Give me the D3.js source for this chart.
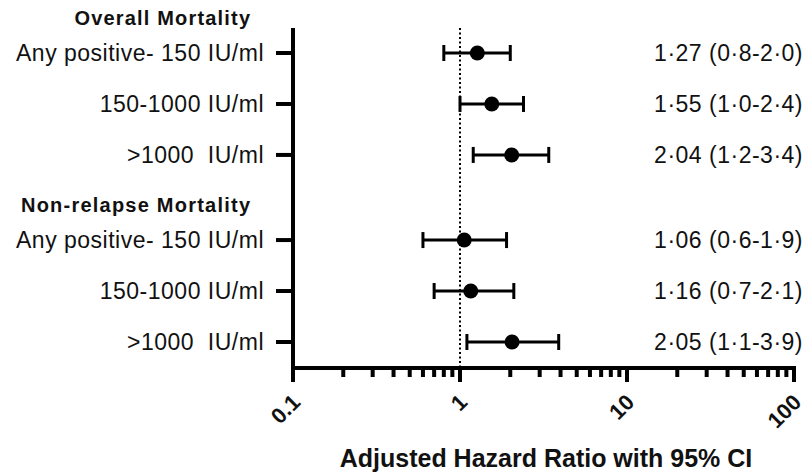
<!DOCTYPE html>
<html><head><meta charset="utf-8">
<script src="https://cdn.jsdelivr.net/npm/d3@7"></script>
<style>body{margin:0;background:#fff}text{font-family:"Liberation Sans",Arial,sans-serif}</style>
</head><body><svg id="c" width="808" height="472"></svg>
<script>
const groups = ["Overall Mortality", "Non-relapse Mortality"];
const categories = ["Any positive- 150 IU/ml", "150-1000 IU/ml", ">1000  IU/ml",
                    "Any positive- 150 IU/ml", "150-1000 IU/ml", ">1000  IU/ml"];
const groupOf = [0,0,0,1,1,1];
const hr   = [1.27, 1.55, 2.04, 1.06, 1.16, 2.05];
const low  = [0.8, 1.0, 1.2, 0.6, 0.7, 1.1];
const high = [2.0, 2.4, 3.4, 1.9, 2.1, 3.9];
const annot = ["1·27 (0·8-2·0)", "1·55 (1·0-2·4)", "2·04 (1·2-3·4)",
               "1·06 (0·6-1·9)", "1·16 (0·7-2·1)", "2·05 (1·1-3·9)"];
const tickLabels = ["0.1", "1", "10", "100"];
const xTitle = "Adjusted Hazard Ratio with 95% CI";

const svg = d3.select("#c");
const axisX = 293, axisY = 368;
const x = d3.scaleLog().domain([0.1, 100]).range([axisX, 794]);
// row slot: index within sequence plus a gap for each group header after the first
const slot = i => i + groupOf[i] * 0.67;
const y = d3.scaleLinear().domain([0, 5.67]).range([53, 342]);

// dotted reference line at HR = 1
svg.append("line").attr("x1", x(1)).attr("x2", x(1)).attr("y1", 28).attr("y2", axisY)
  .attr("stroke", "#000").attr("stroke-width", 2).attr("stroke-dasharray", "2,2.5");

// y axis
svg.append("line").attr("x1", axisX).attr("x2", axisX).attr("y1", 28).attr("y2", axisY + 2)
  .attr("stroke", "#000").attr("stroke-width", 4);
categories.forEach((c, i) => {
  svg.append("line").attr("x1", axisX - 17).attr("x2", axisX).attr("y1", y(slot(i))).attr("y2", y(slot(i)))
    .attr("stroke", "#000").attr("stroke-width", 4);
  svg.append("text").attr("x", 264).attr("y", y(slot(i))).attr("dy", "0.36em")
    .attr("text-anchor", "end").attr("font-size", 23).attr("letter-spacing", 0.5)
    .attr("fill", "#111").style("white-space", "pre").text(c);
});
// group headers
groups.forEach((g, k) => {
  const first = groupOf.indexOf(k);
  const t = svg.append("text").attr("x", 250).attr("y", y(slot(first)) - 35).attr("dy", "0.36em")
    .attr("text-anchor", "end").attr("font-size", 20).attr("font-weight", "bold").attr("fill", "#111").text(g);
  const w = t.node().getComputedTextLength();
  t.attr("textLength", w * 1.12).attr("lengthAdjust", "spacing");
});

// x axis
svg.append("line").attr("x1", axisX - 2).attr("x2", 796).attr("y1", axisY).attr("y2", axisY)
  .attr("stroke", "#000").attr("stroke-width", 4);
const ticks = [];
for (let d = 0.1; d < 100; d *= 10) for (let m = 1; m < 10; m++) ticks.push({v: +(d*m).toPrecision(3), major: m === 1});
ticks.push({v: 100, major: true});
ticks.forEach(t => {
  svg.append("line").attr("x1", x(t.v)).attr("x2", x(t.v)).attr("y1", axisY).attr("y2", axisY + (t.major ? 14 : 9))
    .attr("stroke", "#000").attr("stroke-width", 4);
});
tickLabels.forEach(l => {
  const px = x(+l);
  svg.append("text").attr("transform", `translate(${px + 3},${axisY + 30}) rotate(-45)`)
    .attr("text-anchor", "end").attr("dy", "0.36em").attr("font-size", 22).attr("font-weight", "bold")
    .attr("fill", "#111").text(l);
});
svg.append("text").attr("x", 546).attr("y", 467).attr("text-anchor", "middle")
  .attr("font-size", 25).attr("font-weight", "bold").attr("fill", "#111").text(xTitle);

// error bars and points
hr.forEach((v, i) => {
  const yy = y(slot(i));
  const g = svg.append("g").attr("stroke", "#000").attr("stroke-width", 3);
  g.append("line").attr("x1", x(low[i])).attr("x2", x(high[i])).attr("y1", yy).attr("y2", yy);
  [low[i], high[i]].forEach(e => g.append("line").attr("x1", x(e)).attr("x2", x(e)).attr("y1", yy - 8).attr("y2", yy + 8));
  svg.append("circle").attr("cx", x(v)).attr("cy", yy).attr("r", 7.5).attr("fill", "#000");
  svg.append("text").attr("x", 803).attr("y", yy).attr("dy", "0.36em").attr("text-anchor", "end")
    .attr("font-size", 23).attr("letter-spacing", 0.5).attr("fill", "#111").text(annot[i]);
});
</script></body></html>
